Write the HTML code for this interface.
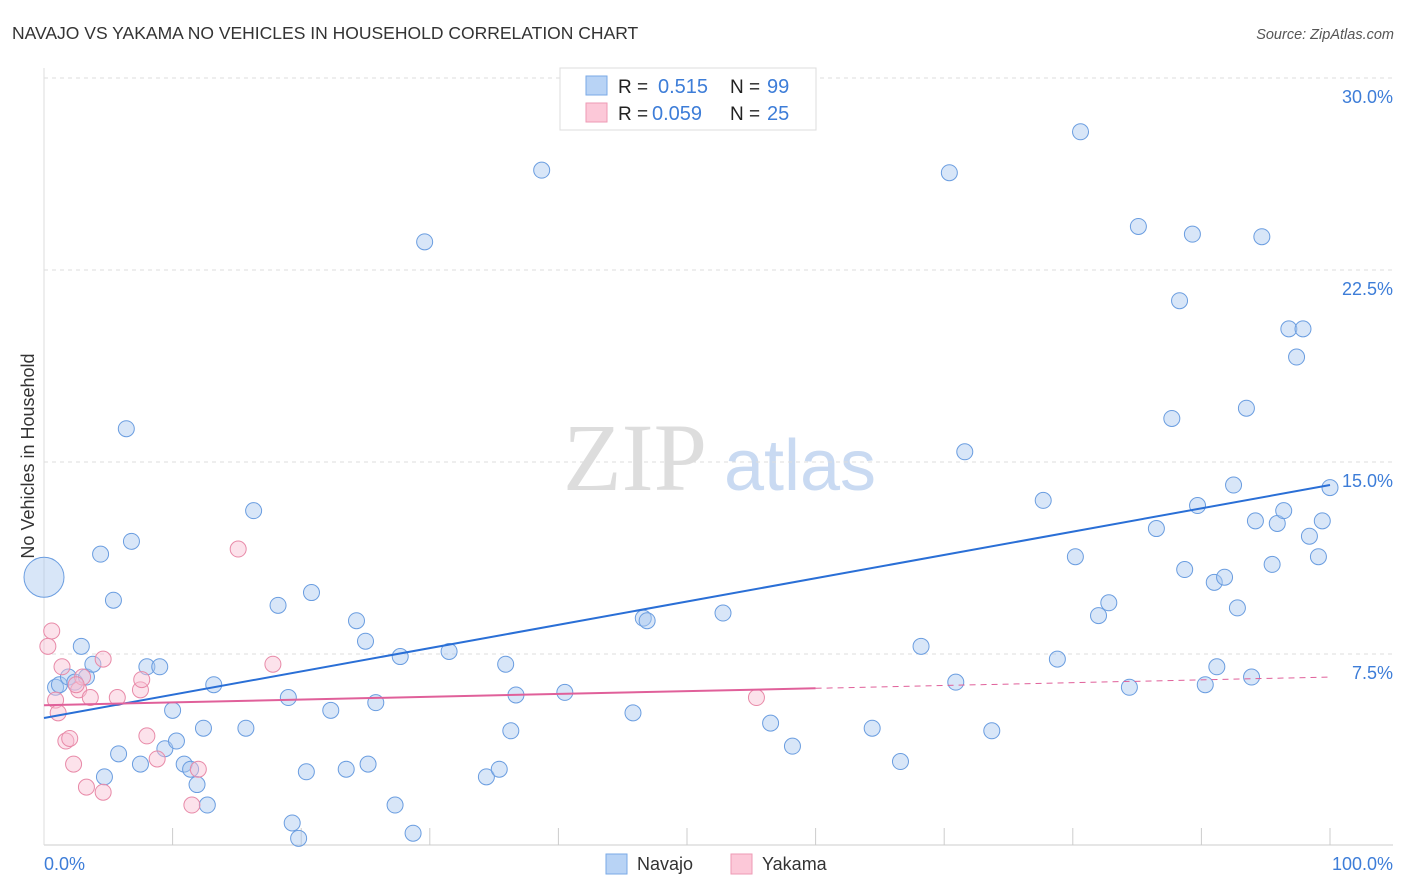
<!DOCTYPE html>
<html><head><meta charset="utf-8"><style>
body{margin:0;width:1406px;height:892px;background:#fff;font-family:"Liberation Sans",sans-serif;overflow:hidden}
svg{position:absolute;left:0;top:0}
</style></head><body>
<svg id="chart" width="1406" height="892">
<text x="12" y="39" font-size="17.5" fill="#333">NAVAJO VS YAKAMA NO VEHICLES IN HOUSEHOLD CORRELATION CHART</text>
<text x="1394" y="39" font-size="14.5" fill="#555" font-style="italic" text-anchor="end">Source: ZipAtlas.com</text>
<g>
<text x="635" y="490" font-size="96" fill="#ddd" font-family="Liberation Serif,serif" text-anchor="middle">ZIP</text>
<text x="800" y="490" font-size="72" fill="#c9daf2" text-anchor="middle">atlas</text>
</g>
<g id="grid"></g>
<g id="axes"></g>
<g id="points"></g>
<g id="lines"></g>
<text x="0" y="0" font-size="18" fill="#333" text-anchor="middle" transform="translate(34,456) rotate(-90)">No Vehicles in Household</text>
<text x="44" y="870" font-size="18" fill="#3d7dd8">0.0%</text>
<text x="1393" y="870" font-size="18" fill="#3d7dd8" text-anchor="end">100.0%</text>
<g>
<rect x="560" y="68" width="256" height="62" fill="#fff" stroke="#ddd"/>
<rect x="586" y="76" width="21" height="19" fill="#b8d3f5" stroke="#7aa9e6"/>
<rect x="586" y="103" width="21" height="19" fill="#fcc8d8" stroke="#ee9ab4"/>
<text x="618" y="93" font-size="19" fill="#222">R = </text><text x="658" y="93" font-size="20" fill="#3d7dd8">0.515</text>
<text x="730" y="93" font-size="19" fill="#222">N = </text><text x="767" y="93" font-size="20" fill="#3d7dd8">99</text>
<text x="618" y="120" font-size="19" fill="#222">R = </text><text x="652" y="120" font-size="20" fill="#3d7dd8">0.059</text>
<text x="730" y="120" font-size="19" fill="#222">N = </text><text x="767" y="120" font-size="20" fill="#3d7dd8">25</text>
</g>
<g>
<rect x="606" y="854" width="21" height="20" fill="#b8d3f5" stroke="#7aa9e6"/>
<text x="637" y="870" font-size="18" fill="#333">Navajo</text>
<rect x="731" y="854" width="21" height="20" fill="#fcc8d8" stroke="#ee9ab4"/>
<text x="762" y="870" font-size="18" fill="#333">Yakama</text>
</g>
</svg>
<script>
const yTicks=[7.5,15,22.5,30];
const yTickLabels=["7.5%","15.0%","22.5%","30.0%"];
const navajoX=[0,0.9,1.2,1.9,2.4,3.3,3.8,2.9,4.4,6.4,5.4,6.8,4.7,5.8,7.5,8.0,9.0,10.0,9.4,10.3,10.9,11.4,11.9,12.7,12.4,13.2,15.7,16.3,18.2,19.0,20.8,20.4,19.3,19.8,22.3,23.5,24.3,25.0,25.2,25.8,27.3,27.7,28.7,29.6,31.5,34.4,35.4,35.9,36.3,36.7,38.7,40.5,45.8,46.6,46.9,52.8,56.5,58.2,64.4,66.6,68.2,70.4,70.9,71.6,73.7,77.7,78.8,80.2,80.6,82.0,82.8,84.4,85.1,86.5,87.7,88.3,88.7,89.3,89.7,90.3,91.0,91.2,91.8,92.5,92.8,93.5,93.9,94.2,94.7,95.5,95.9,96.4,96.8,97.4,97.9,98.4,99.1,99.4,100];
const navajoY=[10.5,6.2,6.3,6.6,6.4,6.6,7.1,7.8,11.4,16.3,9.6,11.9,2.7,3.6,3.2,7.0,7.0,5.3,3.8,4.1,3.2,3.0,2.4,1.6,4.6,6.3,4.6,13.1,9.4,5.8,9.9,2.9,0.9,0.3,5.3,3.0,8.8,8.0,3.2,5.6,1.6,7.4,0.5,23.6,7.6,2.7,3.0,7.1,4.5,5.9,26.4,6.0,5.2,8.9,8.8,9.1,4.8,3.9,4.6,3.3,7.8,26.3,6.4,15.4,4.5,13.5,7.3,11.3,27.9,9.0,9.5,6.2,24.2,12.4,16.7,21.3,10.8,23.9,13.3,6.3,10.3,7.0,10.5,14.1,9.3,17.1,6.6,12.7,23.8,11.0,12.6,13.1,20.2,19.1,20.2,12.1,11.3,12.7,14.0];
const yakamaX=[0.6,0.3,0.9,1.1,1.4,1.7,2.0,2.3,2.7,3.0,3.3,3.6,4.6,4.6,5.7,7.5,7.6,8.0,8.8,11.5,12.0,15.1,17.8,55.4,2.5];
const yakamaY=[8.4,7.8,5.7,5.2,7.0,4.1,4.2,3.2,6.1,6.6,2.3,5.8,2.1,7.3,5.8,6.1,6.5,4.3,3.4,1.6,3.0,11.6,7.1,5.8,6.3];
const navajoLine=[5.0,14.1];
const yakamaLine=[5.5,6.6];
const NS="http://www.w3.org/2000/svg";
const X=v=>44+v*12.86, Y=v=>846-v*25.6;
function mk(tag,attrs,parent){const e=document.createElementNS(NS,tag);for(const k in attrs)e.setAttribute(k,attrs[k]);parent.appendChild(e);return e;}
const grid=document.getElementById('grid'),axes=document.getElementById('axes'),pts=document.getElementById('points'),lines=document.getElementById('lines');
yTicks.forEach((t,i)=>{
 const l=mk('line',{x1:44,x2:1393,y1:Y(t),y2:Y(t),stroke:'#ddd','stroke-dasharray':'4,4'},grid);
 
 
 const tx=mk('text',{x:1393,y:Y(t)+25,'font-size':18,fill:'#3d7dd8','text-anchor':'end'},grid);
 tx.textContent=yTickLabels[i];
 
 
});
const ax=mk('line',{x1:44,x2:1393,y1:845,y2:845,stroke:'#ccc'},axes);


const ay=mk('line',{x1:44,x2:44,y1:68,y2:845,stroke:'#ddd'},axes);


for(let i=1;i<=10;i++){
 const t=mk('line',{x1:X(i*10),x2:X(i*10),y1:828,y2:845,stroke:'#ccc'},axes);
 
 
}
navajoX.forEach((x,i)=>{
 const c=mk('circle',{cx:X(x),cy:Y(navajoY[i]),r:i===0?20:8,fill:'rgba(168,200,240,0.45)',stroke:'#6a9de0','stroke-width':1},pts);
 
 
});
yakamaX.forEach((x,i)=>{
 const c=mk('circle',{cx:X(x),cy:Y(yakamaY[i]),r:8,fill:'rgba(248,190,210,0.45)',stroke:'#e88aa8','stroke-width':1},pts);
 
 
});
const nl=mk('line',{x1:X(0),y1:Y(navajoLine[0]),x2:X(100),y2:Y(navajoLine[1]),stroke:'#2a6fd6','stroke-width':2},lines);


const ym=yakamaLine[0]+(yakamaLine[1]-yakamaLine[0])*0.6;
const yl=mk('line',{x1:X(0),y1:Y(yakamaLine[0]),x2:X(60),y2:Y(ym),stroke:'#e0609a','stroke-width':2},lines);


const yd=mk('line',{x1:X(60),y1:Y(ym),x2:X(100),y2:Y(yakamaLine[1]),stroke:'#e0609a','stroke-width':1,'stroke-dasharray':'6,5'},lines);


</script>
</body></html>
